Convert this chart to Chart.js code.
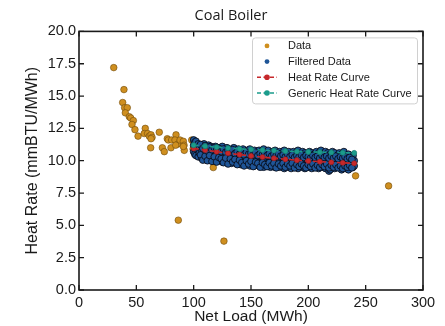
<!DOCTYPE html>
<html>
<head>
<meta charset="utf-8">
<script src="https://cdn.jsdelivr.net/npm/chart.js@4.4.0/dist/chart.umd.min.js"></script>
<style>
  html, body { margin: 0; padding: 0; background: #fff; }
  #wrap { width: 445px; height: 326px; }
</style>
</head>
<body>
<div id="wrap"><canvas id="hr"></canvas></div>
<script>
// raw data (orange)
const rawPoints = [
  [30.3,17.2],[39.2,15.5],[38.1,14.5],[39.8,14.1],[42.1,14.1],[40.4,13.7],[43.9,13.4],[45.1,13.3],
  [47.4,13.1],[46.2,12.8],[48.8,12.4],[51.5,11.9],[57.8,12.5],[56.9,12.1],[59.8,12.1],[61.3,11.9],
  [62.8,12.0],[63.7,11.8],[62.8,11.7],[62.5,11.0],[70.0,12.2],[72.7,11.0],[74.4,10.7],[77.0,11.7],
  [77.9,11.6],[80.8,11.6],[80.2,11.0],[84.6,12.0],[83.7,11.6],[86.6,11.3],[84.3,11.2],[88.1,11.6],
  [91.0,11.5],[91.6,11.2],[91.8,10.8],[91.0,11.1],[98.3,11.6],[99.5,10.9],[102,11.4],[106,10.9],
  [117.1,9.47],[86.6,5.4],[126.4,3.78],[241.2,8.83],[270.0,8.05]
];

// filtered data (blue)
const filteredPoints = [
  [100,11.6],[100,11.2],[100,10.7],[101,11.4],[101,10.9],[101,10.5],[102,11.5],[102,11.0],[102,10.4],
  [104,11.3],[104,10.8],[104,10.3],[105,11.1],[105,10.6],[107,11.2],[107,10.7],[107,10.2],
  [109,11.3],[109,10.9],[109,10.4],[111,11.0],[111,10.6],[111,10.1],[113,11.2],[113,10.8],[113,10.3],
  [115,11.1],[115,10.5],[115,10.2],[117,10.9],[117,10.6],[117,10.0],[119,11.1],[119,10.7],[119,10.2],
  [121,11.0],[121,10.5],[121,10.1],[123,10.9],[123,10.6],[123,10.0],[125,11.1],[125,10.4],[125,9.9],
  [127,10.8],[127,10.5],[127,10.1],[129,11.0],[129,10.6],[129,9.9],[131,10.9],[131,10.3],[131,10.0],
  [133,10.7],[133,10.5],[133,9.8],[135,11.0],[135,10.4],[135,10.0],[137,10.8],[137,10.2],[137,9.8],
  [139,10.9],[139,10.5],[139,9.9],[141,10.7],[141,10.3],[141,9.7],[143,10.9],[143,10.4],[143,9.9],
  [145,10.6],[145,10.2],[145,9.7],[147,10.8],[147,10.4],[147,9.8],[149,10.9],[149,10.1],[149,9.6],
  [151,10.7],[151,10.3],[151,9.8],[153,10.8],[153,10.2],[153,9.6],[155,10.6],[155,10.4],[155,9.7],
  [157,10.8],[157,10.1],[157,9.6],[159,10.7],[159,10.3],[159,9.8],[161,10.9],[161,10.0],[161,9.5],
  [163,10.6],[163,10.2],[163,9.7],[165,10.8],[165,10.3],[165,9.6],[167,10.5],[167,10.0],[167,9.5],
  [169,10.7],[169,10.2],[169,9.7],[171,10.8],[171,10.1],[171,9.5],[173,10.6],[173,10.3],[173,9.6],
  [175,10.7],[175,9.9],[175,9.5],[177,10.5],[177,10.2],[177,9.7],[179,10.8],[179,10.0],[179,9.4],
  [181,10.6],[181,10.1],[181,9.6],[183,10.7],[183,9.9],[183,9.5],[185,10.5],[185,10.2],[185,9.4],
  [187,10.7],[187,10.0],[187,9.6],[189,10.6],[189,10.1],[189,9.5],[191,10.8],[191,9.9],[191,9.4],
  [193,10.5],[193,10.0],[193,9.6],[195,10.7],[195,10.2],[195,9.5],[197,10.6],[197,9.9],[197,9.4],
  [199,10.5],[199,10.1],[199,9.6],[201,10.7],[201,9.8],[201,9.5],[203,10.6],[203,10.0],[203,9.4],
  [205,10.5],[205,10.1],[205,9.6],[207,10.7],[207,9.9],[207,9.5],[209,10.6],[209,10.0],[209,9.4],
  [211,10.8],[211,9.8],[211,9.6],[213,10.5],[213,10.1],[213,9.5],[215,10.7],[215,9.9],[215,9.4],
  [217,10.6],[217,10.0],[217,9.6],[218,9.2],[219,10.5],[219,9.8],[219,9.3],[221,10.7],[221,10.0],[221,9.5],
  [223,10.6],[223,9.9],[223,9.4],[225,10.4],[225,10.1],[225,9.6],[227,10.6],[227,9.8],[227,9.5],
  [229,10.5],[229,10.0],[229,9.3],[231,10.7],[231,9.9],[231,9.5],[233,10.4],[233,9.7],[233,9.4],
  [235,10.5],[235,10.0],[235,9.3],[237,10.3],[237,9.8],[237,9.6],[239,10.4],[239,9.9],[239,9.5],
  [240,10.0],[240,9.6],
  [106,11.25],[106,10.45],[108,10.95],[108,10.05],[110,11.15],[110,10.35],[112,10.75],[112,10.0],
  [114,11.05],[114,10.4],[116,10.85],[116,9.95],[118,11.0],[118,10.3],[120,10.8],[120,9.9],
  [122,10.95],[122,10.25],[124,10.7],[124,10.15],[126,10.9],[126,9.85],[128,10.65],[128,10.2],
  [130,10.8],[130,9.75],[132,10.6],[132,10.15],[134,10.85],[134,9.9],[136,10.55],[136,10.1],
  [138,10.7],[138,9.7],[140,10.5],[140,10.05],[142,10.75],[142,9.85],[144,10.45],[144,9.6],
  [146,10.65],[146,10.0],[148,10.5],[148,9.75],[150,10.6],[150,9.95],[152,10.45],[152,9.55],
  [154,10.65],[154,9.9],[156,10.4],[156,9.8],[158,10.55],[158,9.5],[160,10.45],[160,9.85],
  [162,10.6],[162,9.7],[164,10.4],[164,9.55],[166,10.55],[166,9.85],[168,10.35],[168,9.6],
  [170,10.5],[170,9.8],[172,10.4],[172,9.45],[174,10.55],[174,9.75],[176,10.35],[176,9.6],
  [178,10.45],[178,9.8],[180,10.3],[180,9.5],[182,10.5],[182,9.75],[184,10.3],[184,9.6],
  [186,10.45],[186,9.8],[188,10.25],[188,9.45],[190,10.4],[190,9.7],[192,10.3],[192,9.55],
  [194,10.45],[194,9.75],[196,10.25],[196,9.6],[198,10.4],[198,9.45],[200,10.3],[200,9.7],
  [202,10.2],[202,9.55],[204,10.4],[204,9.75],[206,10.25],[206,9.45],[208,10.35],[208,9.65],
  [210,10.2],[210,9.5],[212,10.4],[212,9.7],[214,10.25],[214,9.55],[216,10.35],[216,9.75],
  [218,10.2],[218,9.45],[220,10.35],[220,9.65],[222,10.2],[222,9.5],[224,10.35],[224,9.7],
  [226,10.15],[226,9.45],[228,10.3],[228,9.6],[230,10.2],[230,9.4],[232,10.3],[232,9.6],
  [234,10.15],[234,9.5],[236,10.25],[236,9.65],[238,10.1],[238,9.45]
];

const curveLoad = [100,110,120,130,140,150,160,170,180,190,200,210,220,230,240];
const curveRate = [10.95,10.82,10.70,10.58,10.47,10.37,10.28,10.19,10.11,10.04,9.98,9.93,9.88,9.84,9.80];
const genericRate = [11.2,11.12,11.05,10.98,10.92,10.87,10.82,10.78,10.74,10.71,10.68,10.66,10.64,10.62,10.6];

const xTicks = [0,50,100,150,200,250,300];
const yTicks = [0,2.5,5,7.5,10,12.5,15,17.5,20];

const toXY = pts => pts.map(p => ({x: p[0], y: p[1]}));
const curve = ys => curveLoad.map((x, i) => ({x, y: ys[i]}));

const FONT = "'Liberation Sans', Arial, sans-serif";
const INK = '#1a1a1a';

// matplotlib style box with inward ticks on all sides
const frame = {
  id: 'frame',
  afterDatasetsDraw(chart) {
    const {ctx, chartArea: a, scales: {x, y}} = chart;
    ctx.save();
    ctx.strokeStyle = INK;
    ctx.lineWidth = 1.6;
    ctx.strokeRect(a.left, a.top, a.right - a.left, a.bottom - a.top);
    ctx.lineWidth = 1.3;
    ctx.beginPath();
    xTicks.forEach(v => {
      const p = x.getPixelForValue(v);
      ctx.moveTo(p, a.bottom); ctx.lineTo(p, a.bottom - 5);
      ctx.moveTo(p, a.top); ctx.lineTo(p, a.top + 5);
    });
    yTicks.forEach(v => {
      const p = y.getPixelForValue(v);
      ctx.moveTo(a.left, p); ctx.lineTo(a.left + 5, p);
      ctx.moveTo(a.right, p); ctx.lineTo(a.right - 5, p);
    });
    ctx.stroke();
    ctx.restore();
  }
};

// legend inside the axes, upper right
const boxLegend = {
  id: 'boxLegend',
  afterDraw(chart) {
    const {ctx, chartArea: a} = chart;
    const w = 165, h = 66;
    const left = a.right - 6 - w, top = a.top + 6;
    ctx.save();
    ctx.fillStyle = 'rgba(255,255,255,0.9)';
    ctx.strokeStyle = '#d0d0d0';
    ctx.lineWidth = 1;
    ctx.beginPath();
    ctx.roundRect(left + 0.5, top + 0.5, w, h, 3);
    ctx.fill();
    ctx.stroke();
    ctx.font = '11px ' + FONT;
    ctx.textBaseline = 'middle';
    chart.data.datasets.forEach((ds, i) => {
      const cy = top + 8.5 + i * 15.7;
      const mx = left + 15;
      if (ds.showLine) {
        ctx.strokeStyle = ds.borderColor;
        ctx.lineWidth = 1.5;
        ctx.setLineDash([4, 2.5]);
        ctx.beginPath();
        ctx.moveTo(mx - 10, cy); ctx.lineTo(mx + 10, cy);
        ctx.stroke();
        ctx.setLineDash([]);
      }
      ctx.fillStyle = ds.pointBackgroundColor;
      ctx.beginPath();
      ctx.arc(mx, cy, ds.showLine ? 2.8 : 2.4, 0, Math.PI * 2);
      ctx.fill();
      ctx.fillStyle = INK;
      ctx.fillText(ds.label, left + 36, cy + 0.5);
    });
    ctx.restore();
  }
};

new Chart(document.getElementById('hr'), {
  type: 'scatter',
  data: {
    datasets: [
      {
        label: 'Data',
        data: toXY(rawPoints),
        pointRadius: 3.3,
        pointBackgroundColor: '#cf8f1f',
        pointBorderColor: '#6e4a0c',
        pointBorderWidth: 0.6,
        order: 4
      },
      {
        label: 'Filtered Data',
        data: toXY(filteredPoints),
        pointRadius: 3.4,
        pointBackgroundColor: '#1f5597',
        pointBorderColor: '#05050c',
        pointBorderWidth: 0.8,
        order: 3
      },
      {
        label: 'Heat Rate Curve',
        data: curve(curveRate),
        showLine: true,
        borderColor: '#c6282b',
        borderWidth: 1.6,
        borderDash: [5, 3],
        pointRadius: 2.6,
        pointBackgroundColor: '#c6282b',
        pointBorderColor: '#8a1c1c',
        pointBorderWidth: 0.5,
        order: 2
      },
      {
        label: 'Generic Heat Rate Curve',
        data: curve(genericRate),
        showLine: true,
        borderColor: '#1b9c8c',
        borderWidth: 1.6,
        borderDash: [5, 3],
        pointRadius: 2.6,
        pointBackgroundColor: '#1b9c8c',
        pointBorderColor: '#146e63',
        pointBorderWidth: 0.5,
        order: 1
      }
    ]
  },
  options: {
    responsive: true,
    maintainAspectRatio: false,
    animation: false,
    events: [],
    layout: { padding: { left: 17, right: 0, top: 0, bottom: 0 } },
    plugins: {
      legend: { display: false },
      tooltip: { enabled: false },
      title: {
        display: true,
        text: 'Coal Boiler',
        color: INK,
        font: { family: "'Open Sans', sans-serif", size: 14.5, weight: 'normal' },
        padding: { top: 7, bottom: 7 }
      }
    },
    scales: {
      x: {
        type: 'linear',
        min: 0, max: 300,
        afterBuildTicks: s => { s.ticks = xTicks.map(v => ({value: v})); },
        afterFit: s => { s.height = 36; },
        grid: { display: false, drawTicks: false },
        border: { display: false },
        ticks: { color: INK, padding: 4, font: { family: FONT, size: 14.5 }, maxRotation: 0 },
        title: { display: true, text: 'Net Load (MWh)', color: INK, padding: 0, font: { family: FONT, size: 15.5 } }
      },
      y: {
        type: 'linear',
        min: 0, max: 20,
        afterBuildTicks: s => { s.ticks = yTicks.map(v => ({value: v})); },
        afterFit: s => { s.width = 62; },
        grid: { display: false, drawTicks: false },
        border: { display: false },
        ticks: { color: INK, padding: 3, font: { family: FONT, size: 14.5 }, callback: v => v.toFixed(1) },
        title: { display: true, text: 'Heat Rate (mmBTU/MWh)', color: INK, padding: { top: 6, bottom: 0 }, font: { family: FONT, size: 16 } }
      },
      y2: {
        type: 'linear',
        position: 'right',
        min: 0, max: 20,
        afterFit: s => { s.width = 22; },
        grid: { display: false, drawTicks: false },
        border: { display: false },
        ticks: { display: false }
      }
    }
  },
  plugins: [frame, boxLegend]
});
</script>
</body>
</html>
